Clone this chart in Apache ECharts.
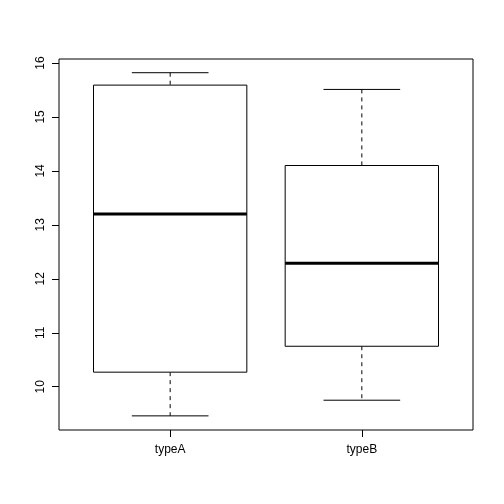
<!DOCTYPE html>
<html>
<head>
<meta charset="utf-8">
<script src="https://cdn.jsdelivr.net/npm/echarts@6/dist/echarts.min.js"></script>
<style>
  html, body { margin: 0; padding: 0; background: #fff; }
  #chart { width: 504px; height: 504px; }
</style>
</head>
<body>
<div id="chart"></div>
<script>
const categories = ["typeA", "typeB"];
const lowerWhisker = [9.46, 9.75];
const q1 = [10.27, 10.75];
const median = [13.20, 12.29];
const q3 = [15.59, 14.10];
const upperWhisker = [15.82, 15.51];
const yTicks = [10, 11, 12, 13, 14, 15, 16];

var chart = echarts.init(document.getElementById('chart'));

// one row per box: [position, low, q1, median, q3, high]
const boxData = categories.map((c, i) =>
    [i + 1, lowerWhisker[i], q1[i], median[i], q3[i], upperWhisker[i]]);

function renderBox(params, api) {
    const x = api.value(0);
    const pLow = api.coord([x, api.value(1)]);
    const pQ1 = api.coord([x, api.value(2)]);
    const pMed = api.coord([x, api.value(3)]);
    const pQ3 = api.coord([x, api.value(4)]);
    const pHigh = api.coord([x, api.value(5)]);
    const boxW = api.size([0.8, 0])[0];
    const capW = api.size([0.4, 0])[0];
    const cx = pMed[0];
    const line = { stroke: "#000", lineWidth: 1, fill: null };
    const dashed = { stroke: "#000", lineWidth: 1, lineDash: [4, 4], fill: null };
    return {
        type: "group",
        children: [
            { type: "line", shape: { x1: cx, y1: pHigh[1], x2: cx, y2: pQ3[1] }, style: dashed },
            { type: "line", shape: { x1: cx, y1: pQ1[1], x2: cx, y2: pLow[1] }, style: dashed },
            { type: "line", shape: { x1: cx - capW / 2, y1: pHigh[1], x2: cx + capW / 2, y2: pHigh[1] }, style: line },
            { type: "line", shape: { x1: cx - capW / 2, y1: pLow[1], x2: cx + capW / 2, y2: pLow[1] }, style: line },
            { type: "rect", shape: { x: cx - boxW / 2, y: pQ3[1], width: boxW, height: pQ1[1] - pQ3[1] },
              style: { stroke: "#000", lineWidth: 1, fill: "#fff" } },
            { type: "line", shape: { x1: cx - boxW / 2, y1: pMed[1], x2: cx + boxW / 2, y2: pMed[1] },
              style: { stroke: "#000", lineWidth: 3 } }
        ]
    };
}

chart.setOption({
    animation: false,
    textStyle: { fontFamily: "Liberation Sans, Arial, sans-serif" },
    grid: {
        left: 59,
        right: 31,
        top: 59,
        bottom: 74,
        show: true,
        borderColor: "#000",
        borderWidth: 1,
        backgroundColor: "transparent"
    },
    xAxis: {
        type: "value",
        min: 0.42,
        max: 2.58,
        splitLine: { show: false },
        axisLine: { show: false },
        axisTick: { show: true, length: 7, customValues: [1, 2], lineStyle: { color: "#000" } },
        axisLabel: {
            customValues: [1, 2],
            margin: 14,
            fontSize: 12,
            color: "#000",
            formatter: v => categories[Math.round(v) - 1] || ""
        }
    },
    yAxis: {
        type: "value",
        min: 9.198,
        max: 16.074,
        splitLine: { show: false },
        axisLine: { show: false },
        axisTick: { show: true, length: 7, customValues: yTicks, lineStyle: { color: "#000" } },
        axisLabel: {
            customValues: yTicks,
            rotate: 90,
            margin: 12,
            fontSize: 12,
            color: "#000"
        }
    },
    series: [
        {
            type: "custom",
            renderItem: renderBox,
            encode: { x: 0, y: [1, 2, 3, 4, 5] },
            data: boxData
        }
    ]
});

window.addEventListener("resize", () => {
    if (chart) chart.resize();
});
</script>
</body>
</html>
